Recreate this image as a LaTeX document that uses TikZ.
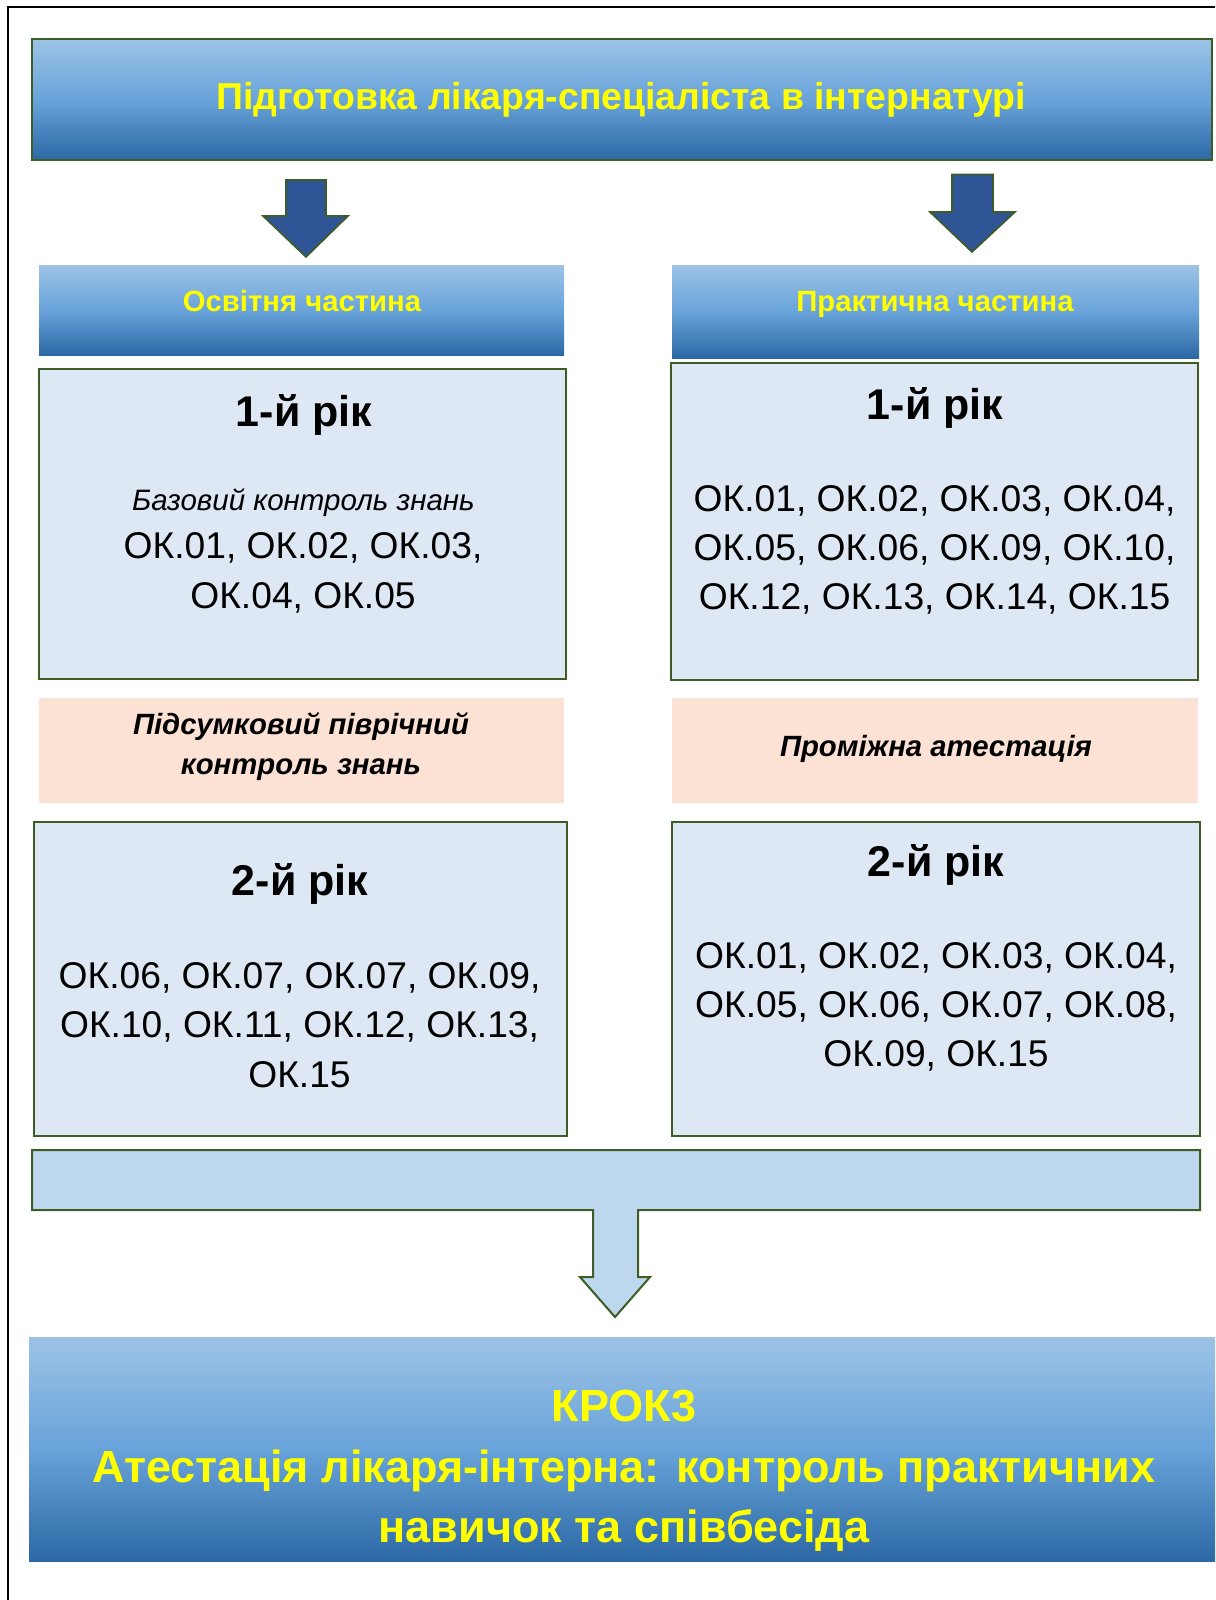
\documentclass[tikz,border=0pt]{standalone}
\usepackage{fontspec}
\setmainfont{Liberation Sans}
\definecolor{bTop}{RGB}{157,195,230}
\definecolor{bMid}{RGB}{104,163,218}
\definecolor{bBot}{RGB}{44,104,164}
\definecolor{gline}{RGB}{62,92,38}
\definecolor{boxfill}{RGB}{221,232,244}
\definecolor{peach}{RGB}{251,226,213}
\definecolor{arrowblue}{RGB}{47,85,151}
\definecolor{barfill}{RGB}{189,215,238}
\definecolor{ytext}{RGB}{255,255,0}
\begin{document}
\begin{tikzpicture}[x=1pt,y=-1pt,
  banner/.style={rectangle, inner sep=0pt, top color=bTop, bottom color=bBot, middle color=bMid},
  yearbox/.style={rectangle, inner sep=0pt, fill=boxfill, draw=gline, line width=2.2pt},
  peachbox/.style={rectangle, inner sep=0pt, fill=peach},
  blockarrow/.style={fill=arrowblue, draw=gline, line width=1.6pt, line join=miter},
  ytitle/.style={inner sep=0pt, text=ytext, font=\bfseries\fontsize{37.4}{44}\selectfont},
  yhead/.style={inner sep=0pt, text=ytext, font=\bfseries\fontsize{29.3}{34}\selectfont},
  yeartxt/.style={inner sep=0pt, font=\bfseries\fontsize{43}{50}\selectfont},
  oktxt/.style={inner sep=0pt, align=center, font=\fontsize{37.2}{49.3}\selectfont},
  ittxt/.style={inner sep=0pt, font=\itshape\fontsize{29.5}{33}\selectfont},
  peachtxt/.style={inner sep=0pt, align=center, font=\bfseries\itshape\fontsize{29.3}{40}\selectfont},
  finaltxt/.style={inner sep=0pt, align=center, text=ytext, font=\bfseries\fontsize{45}{60.7}\selectfont}
]
\useasboundingbox (0,0) rectangle (1215,1600);
% outer frame
\draw[line width=2pt] (8,1600) -- (8,7.5) -- (1215,7.5);

% title banner
\node[banner, draw=gline, line width=2pt, minimum width=1180pt, minimum height=121pt] (title) at (622,99.5) {};
\node[ytitle] (titletxt) at (621,100) {Підготовка лікаря-спеціаліста в інтернатурі};

% block arrows
\draw[blockarrow] (286,180) -- (326,180) -- (326,216) -- (348,216) -- (306,257) -- (263,216) -- (286,216) -- cycle;
\draw[blockarrow] (952,174.5) -- (993,174.5) -- (993,212) -- (1015,212) -- (972,252) -- (930,212) -- (952,212) -- cycle;

% headers
\node[banner, minimum width=525pt, minimum height=90pt] (eduhead) at (301.5,310) {};
\node[yhead] (edutxt) at (302,301) {Освітня частина};
\node[banner, minimum width=527pt, minimum height=93pt] (prachead) at (935.5,311.5) {};
\node[yhead] (practxt) at (935,304) {Практична частина};

% year 1 boxes
\node[yearbox, minimum width=527pt, minimum height=310pt] (eduy1) at (302.5,524) {};
\node[yeartxt] (eduy1t) at (304,415) {1-й рік};
\node[ittxt] (eduy1i) at (303.5,503) {Базовий контроль знань};
\node[oktxt] (eduy1ok) at (303,573) {ОК.01, ОК.02, ОК.03,\\ОК.04, ОК.05};

\node[yearbox, minimum width=527pt, minimum height=317pt] (pracy1) at (934.5,521.5) {};
\node[yeartxt] (pracy1t) at (935,408) {1-й рік};
\node[oktxt] (pracy1ok) at (934.5,550) {ОК.01, ОК.02, ОК.03, ОК.04,\\ОК.05, ОК.06, ОК.09, ОК.10,\\ОК.12, ОК.13, ОК.14, ОК.15};

% intermediate
\node[peachbox, minimum width=525pt, minimum height=105pt] (edumid) at (301.5,750.5) {};
\node[peachtxt] (edumidt) at (301,747) {Підсумковий піврічний\\контроль знань};
\node[peachbox, minimum width=526pt, minimum height=105pt] (pracmid) at (935,750.5) {};
\node[peachtxt] (pracmidt) at (936,749) {Проміжна атестація};

% year 2 boxes
\node[yearbox, minimum width=533pt, minimum height=314pt] (eduy2) at (300.5,979) {};
\node[yeartxt] (eduy2t) at (300,884) {2-й рік};
\node[oktxt] (eduy2ok) at (299.5,1025) {ОК.06, ОК.07, ОК.07, ОК.09,\\ОК.10, ОК.11, ОК.12, ОК.13,\\ОК.15};

\node[yearbox, minimum width=528pt, minimum height=314pt] (pracy2) at (936,979) {};
\node[yeartxt] (pracy2t) at (936,865) {2-й рік};
\node[oktxt] (pracy2ok) at (936,1007) {ОК.01, ОК.02, ОК.03, ОК.04,\\ОК.05, ОК.06, ОК.07, ОК.08,\\ОК.09, ОК.15};

% merging bar with arrow
\draw[fill=barfill, draw=gline, line width=2pt, line join=miter]
  (32,1150) -- (1200,1150) -- (1200,1210) -- (638,1210) -- (638,1277) -- (650,1277)
  -- (615,1317) -- (580,1277) -- (593,1277) -- (593,1210) -- (32,1210) -- cycle;

% final banner
\node[banner, minimum width=1186pt, minimum height=224pt] (final) at (622,1449) {};
\node[finaltxt] (finaltxtn) at (624,1471) {КРОК3\\Атестація лікаря-інтерна: контроль практичних\\навичок та співбесіда};
\end{tikzpicture}
\end{document}
